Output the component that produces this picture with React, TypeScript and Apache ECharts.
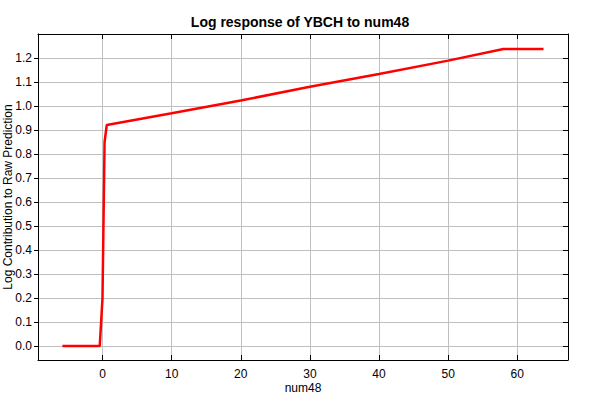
import React, { useEffect, useRef } from "react";
import * as echarts from "echarts";

const chartTitle = "Log response of YBCH to num48";
const xName = "num48";
const yName = "Log Contribution to Raw Prediction";
const xValues = [-5.8, -0.4, 0.0, 0.3, 0.62, 10, 20, 30, 40, 50, 58, 63.8];
const yValues = [0, 0, 0.2, 0.85, 0.921, 0.97, 1.023, 1.08, 1.133, 1.189, 1.2375, 1.2375];

export default function App() {
  const ref = useRef<HTMLDivElement>(null);
  useEffect(() => {
    if (!ref.current) return;
    const chart = echarts.init(ref.current, undefined, { renderer: "svg" });
    const font = "Liberation Sans, Arial, sans-serif";
    const xMin = -9.33, xMax = 67.34, yMin = -0.058, yMax = 1.3;
    const xFmt = (v: number) => (Math.abs(v / 10 - Math.round(v / 10)) < 1e-6 ? String(Math.round(v)) : "");
    const yFmt = (v: number) => (Math.abs(v * 10 - Math.round(v * 10)) < 1e-6 ? v.toFixed(1) : "");
    const axisLine = { show: true, onZero: false, lineStyle: { color: "#000", width: 1 } };
    chart.setOption({
      animation: false,
      backgroundColor: "#fff",
      title: {
        text: chartTitle,
        left: "center",
        top: 10,
        textStyle: { fontFamily: font, fontSize: 14, fontWeight: "bold", color: "#000" },
      },
      grid: { left: 38, right: 32, top: 34, bottom: 40, containLabel: false, outerBoundsMode: "none" },
      xAxis: [
        {
          type: "value",
          min: xMin,
          max: xMax,
          splitNumber: 8,
          position: "bottom",
          name: xName,
          nameLocation: "middle",
          nameGap: 22,
          nameMoveOverlap: false,
          nameTextStyle: { fontFamily: font, fontSize: 12, color: "#000" },
          axisLine,
          axisTick: { show: true, inside: true, length: 5, lineStyle: { color: "#000" } },
          axisLabel: { formatter: xFmt, showMinLabel: false, showMaxLabel: false, fontFamily: font, fontSize: 12, color: "#000", margin: 8 },
          splitLine: { show: true, lineStyle: { color: "#c0c0c0", width: 1 } },
        },
        {
          type: "value",
          min: xMin,
          max: xMax,
          splitNumber: 8,
          position: "top",
          axisLine,
          axisTick: { show: true, inside: true, length: 5, lineStyle: { color: "#000" } },
          axisLabel: { show: false },
          splitLine: { show: false },
        },
      ],
      yAxis: [
        {
          type: "value",
          min: yMin,
          max: yMax,
          splitNumber: 14,
          position: "left",
          name: yName,
          nameLocation: "middle",
          nameGap: 24,
          nameMoveOverlap: false,
          nameRotate: 90,
          nameTextStyle: { fontFamily: font, fontSize: 12, color: "#000" },
          axisLine,
          axisTick: { show: true, inside: false, length: 4, lineStyle: { color: "#000" } },
          axisLabel: { formatter: yFmt, showMinLabel: false, showMaxLabel: false, fontFamily: font, fontSize: 12, color: "#000", margin: 6 },
          splitLine: { show: true, lineStyle: { color: "#c0c0c0", width: 1 } },
        },
        {
          type: "value",
          min: yMin,
          max: yMax,
          splitNumber: 14,
          position: "right",
          axisLine,
          axisTick: { show: true, inside: true, length: 5, lineStyle: { color: "#000" } },
          axisLabel: { show: false },
          splitLine: { show: false },
        },
      ],
      series: [
        {
          type: "line",
          data: xValues.map((x, i) => [x, yValues[i]]),
          xAxisIndex: 0,
          yAxisIndex: 0,
          showSymbol: false,
          symbol: "none",
          lineStyle: { color: "#ff0000", width: 2.5 },
          itemStyle: { color: "#ff0000" },
        },
      ],
    });
    return () => chart.dispose();
  }, []);
  return <div ref={ref} style={{ position: "absolute", left: 0, top: 0, width: 600, height: 400 }} />;
}
